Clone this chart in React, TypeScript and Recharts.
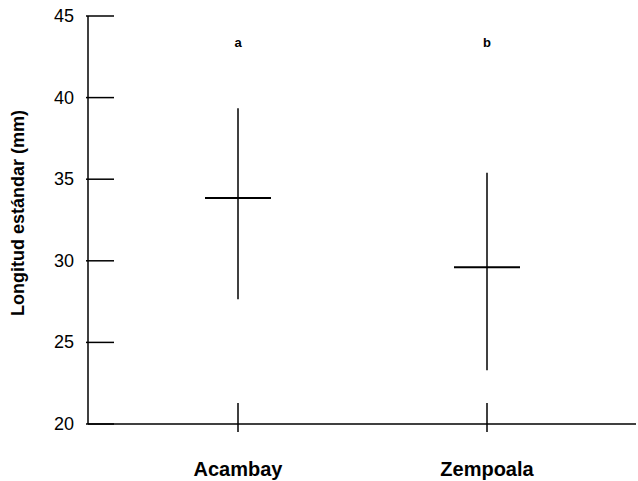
import {
  ComposedChart,
  Scatter,
  ErrorBar,
  XAxis,
  YAxis,
  Label,
} from "recharts";

const sites = ["Acambay", "Zempoala"];
const means = [33.85, 29.6];
const lows = [27.65, 23.3];
const highs = [39.35, 35.4];
const letters = ["a", "b"];
const letterLevel = [43.4, 43.4];
const yTicks = [20, 25, 30, 35, 40, 45];

const FONT = "'Liberation Sans', Arial, Helvetica, sans-serif";

const data = sites.map((site, i) => ({
  site,
  mean: means[i],
  err: [means[i] - lows[i], highs[i] - means[i]],
  letter: letters[i],
  letterY: letterLevel[i],
}));

function YTick(props: any) {
  const { x, y, payload } = props;
  return (
    <g>
      <line x1={x - 2} x2={x + 26} y1={y} y2={y} stroke="#000" strokeWidth={1.5} />
      <text
        x={x - 14}
        y={y}
        textAnchor="end"
        dominantBaseline="central"
        fontSize={18}
        fontFamily={FONT}
        fill="#000"
      >
        {payload.value}
      </text>
    </g>
  );
}

function XTick(props: any) {
  const { x, y, payload } = props;
  return (
    <g>
      <line x1={x} x2={x} y1={y - 21} y2={y + 8} stroke="#000" strokeWidth={1.5} />
      <text
        x={x}
        y={y + 52}
        textAnchor="middle"
        fontSize={20}
        fontWeight="bold"
        fontFamily={FONT}
        fill="#000"
      >
        {payload.value}
      </text>
    </g>
  );
}

function MeanMark(props: any) {
  const { cx, cy } = props;
  return <line x1={cx - 33} x2={cx + 33} y1={cy} y2={cy} stroke="#000" strokeWidth={2} />;
}

function LetterMark(props: any) {
  const { cx, cy, payload } = props;
  return (
    <text
      x={cx}
      y={cy}
      textAnchor="middle"
      dominantBaseline="central"
      fontSize={13}
      fontWeight="bold"
      fontFamily={FONT}
      fill="#000"
    >
      {payload.letter}
    </text>
  );
}

export default function App() {
  return (
    <div style={{ position: "absolute", left: 0, top: 0, background: "#fff" }}>
      <ComposedChart
        width={638}
        height={481}
        data={data}
        margin={{ top: 16, right: 2, bottom: 17, left: 0 }}
      >
        <XAxis
          dataKey="site"
          type="category"
          height={40}
          padding={{ left: 150, right: 149 }}
          tickSize={0}
          tickMargin={0}
          tickLine={false}
          axisLine={{ stroke: "#000", strokeWidth: 1.5 }}
          tick={<XTick />}
        />
        <YAxis
          type="number"
          domain={[20, 45]}
          ticks={yTicks}
          width={88}
          tickSize={0}
          tickMargin={0}
          tickLine={false}
          axisLine={{ stroke: "#000", strokeWidth: 1.5 }}
          tick={<YTick />}
        >
          <Label
            content={(p: any) => {
              const vb = p.viewBox;
              const cy = vb.y + vb.height / 2 - 7;
              return (
                <text
                  transform={`translate(18, ${cy}) rotate(-90)`}
                  textAnchor="middle"
                  dominantBaseline="central"
                  fontSize={18}
                  fontWeight="bold"
                  fontFamily={FONT}
                  fill="#000"
                >
                  Longitud estándar (mm)
                </text>
              );
            }}
          />
        </YAxis>
        <Scatter dataKey="mean" shape={<MeanMark />} isAnimationActive={false}>
          <ErrorBar
            dataKey="err"
            direction="y"
            width={0}
            stroke="#000"
            strokeWidth={1.5}
            isAnimationActive={false}
          />
        </Scatter>
        <Scatter dataKey="letterY" shape={<LetterMark />} isAnimationActive={false} />
      </ComposedChart>
    </div>
  );
}
